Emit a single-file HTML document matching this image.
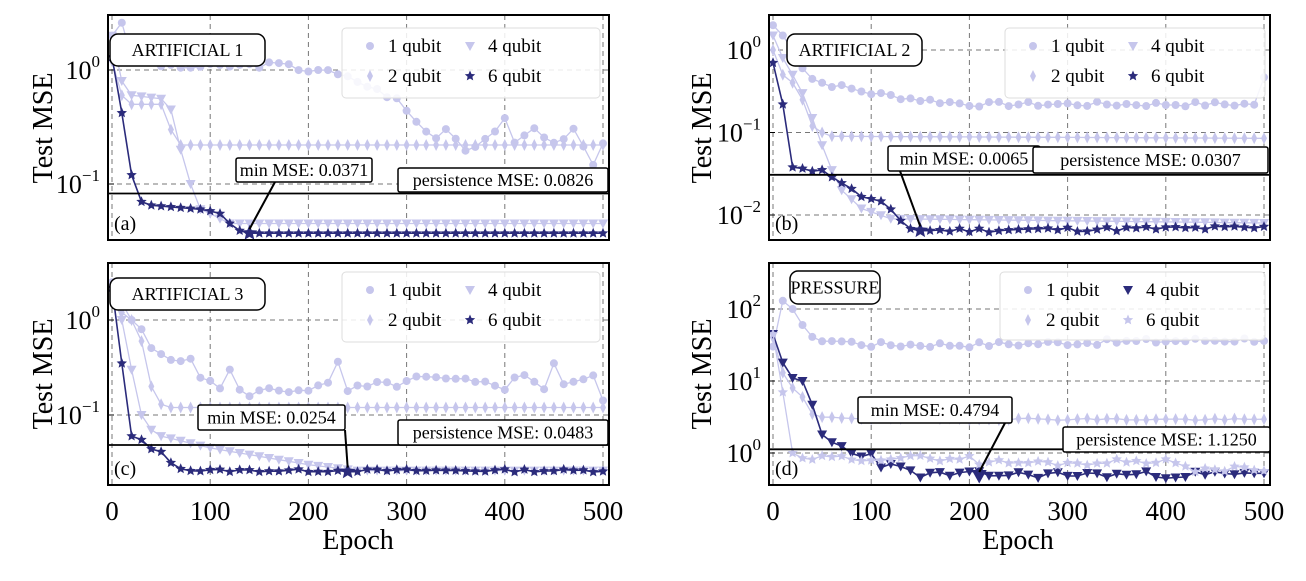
<!DOCTYPE html>
<html><head><meta charset="utf-8"><style>
html,body{margin:0;padding:0;background:#fff;}
svg,svg text{font-family:"Liberation Serif","DejaVu Serif",serif;}
</style></head><body>
<div id="wrap"></div>
<script>
var L='#c6c6ec',D='#2b2b7b';
var H='';
function lg(v){return Math.log(v)/Math.LN10;}
function star(x,y,r){var p=[];for(var i=0;i<10;i++){var a=-Math.PI/2+i*Math.PI/5,rr=(i%2)?r*0.45:r;p.push((x+rr*Math.cos(a)).toFixed(1)+','+(y+rr*Math.sin(a)).toFixed(1));}return p.join(' ');}
function marker(tp,x,y,c,big){var s=big||1;x=+x;y=+y;
 if(tp=='o')return '<circle cx="'+x+'" cy="'+y+'" r="'+(4*s)+'" fill="'+c+'"/>';
 if(tp=='d')return '<polygon points="'+x+','+(y-6*s)+' '+(x+3*s)+','+y+' '+x+','+(y+6*s)+' '+(x-3*s)+','+y+'" fill="'+c+'"/>';
 if(tp=='v')return '<polygon points="'+(x-5*s)+','+(y-4*s)+' '+(x+5*s)+','+(y-4*s)+' '+x+','+(y+5*s)+'" fill="'+c+'"/>';
 return '<polygon points="'+star(x,y,5.5*s)+'" fill="'+c+'"/>';}
function interp(pts){var out=[];for(var e=0;e<=500;e+=10){var v=pts[pts.length-1][1];for(var i=0;i<pts.length-1;i++){if(e>=pts[i][0]&&e<=pts[i+1][0]){var f=(e-pts[i][0])/(pts[i+1][0]-pts[i][0]);v=Math.pow(10,lg(pts[i][1])*(1-f)+lg(pts[i+1][1])*f);break;}}out.push([e,v]);}return out;}
function noise(arr,amp,seed){var s=seed;return arr.map(function(p,i){s=(s*9301+49297)%233280;var r=s/233280-0.5;return [p[0],i>3?p[1]*Math.pow(10,r*amp):p[1]];});}
var FF=' font-family="Liberation Serif, DejaVu Serif, serif"';
function panel(P){
 var X=function(e){return P.x0+(P.x5-P.x0)*e/500;},Y=function(v){return P.ya-P.yd*lg(v);};
 var h='';
 h+='<defs><clipPath id="c'+P.id+'"><rect x="'+P.fx0+'" y="'+P.fy0+'" width="'+(P.fx1-P.fx0)+'" height="'+(P.fy1-P.fy0)+'"/></clipPath></defs>';
 for(var e=0;e<=500;e+=100)h+='<line x1="'+X(e)+'" x2="'+X(e)+'" y1="'+P.fy0+'" y2="'+P.fy1+'" stroke="#777" stroke-width="1" stroke-dasharray="5,4"/>';
 P.ex.forEach(function(k){var y=Y(Math.pow(10,k));
  h+='<line x1="'+P.fx0+'" x2="'+P.fx1+'" y1="'+y+'" y2="'+y+'" stroke="#777" stroke-width="1" stroke-dasharray="5,4"/>';
  h+='<text x="'+(P.fx0-8)+'" y="'+(y+9)+'" font-size="26" text-anchor="end">10<tspan dy="-12" font-size="17">'+(k<0?'\u2212'+(-k):k)+'</tspan></text>';
  h+='<line x1="'+P.fx0+'" x2="'+(P.fx0+6)+'" y1="'+y+'" y2="'+y+'" stroke="#000"/>';});
 h+='<g clip-path="url(#c'+P.id+')">';
 P.series.forEach(function(sr){var d=sr.d.map(function(p){return X(p[0]).toFixed(1)+','+Y(p[1]).toFixed(1);}).join(' ');
  h+='<polyline points="'+d+'" fill="none" stroke="'+sr.c+'" stroke-width="'+(sr.c==D?1.6:1.3)+'"/>';
  sr.d.forEach(function(p){h+=marker(sr.m,X(p[0]).toFixed(1),Y(p[1]).toFixed(1),sr.c);});});
 var py=Y(P.pers);h+='<line x1="'+P.fx0+'" x2="'+P.fx1+'" y1="'+py+'" y2="'+py+'" stroke="#000" stroke-width="1.8"/>';
 h+=marker(P.minm,X(P.mine),Y(P.minv),D,1.5);
 h+='</g>';
 h+='<rect x="'+P.fx0+'" y="'+P.fy0+'" width="'+(P.fx1-P.fx0)+'" height="'+(P.fy1-P.fy0)+'" fill="none" stroke="#000" stroke-width="2"/>';
 if(P.bottom)for(var e2=0;e2<=500;e2+=100)h+='<text x="'+X(e2)+'" y="'+(P.fy1+35)+'" font-size="27" text-anchor="middle">'+e2+'</text>';
 var t=P.title;h+='<rect x="'+t[0]+'" y="'+t[1]+'" width="'+t[2]+'" height="'+t[3]+'" rx="8" fill="#fff" stroke="#000" stroke-width="1.5"/><text x="'+(t[0]+t[2]/2)+'" y="'+(t[1]+t[3]/2+6)+'" font-size="18" text-anchor="middle">'+t[4]+'</text>';
 var g=P.leg;h+='<rect x="'+g[0]+'" y="'+g[1]+'" width="'+g[2]+'" height="'+g[3]+'" rx="4" fill="#fff" fill-opacity="0.85" stroke="#ddd"/>';
 var lx=[g[0]+28,g[0]+128],ly=[g[1]+18,g[1]+48];
 P.series.forEach(function(sr,i){var cx=lx[i<2?0:1],cy=ly[i%2];h+=marker(sr.m,cx,cy,sr.c)+'<text x="'+(cx+18)+'" y="'+(cy+6)+'" font-size="19">'+sr.n+'</text>';});
 var m=P.mbox;h+='<line x1="'+m[4]+'" y1="'+(m[1]+m[3])+'" x2="'+X(P.mine)+'" y2="'+(Y(P.minv)-4)+'" stroke="#000" stroke-width="2"/>';
 h+='<rect x="'+m[0]+'" y="'+m[1]+'" width="'+m[2]+'" height="'+m[3]+'" rx="2" fill="#fff" stroke="#000" stroke-width="1.5"/><text x="'+(m[0]+m[2]/2)+'" y="'+(m[1]+m[3]/2+6)+'" font-size="18" text-anchor="middle">min MSE: '+P.mtxt+'</text>';
 var q=P.pbox;h+='<rect x="'+q[0]+'" y="'+q[1]+'" width="'+q[2]+'" height="'+q[3]+'" rx="2" fill="#fff" stroke="#000" stroke-width="1.5"/><text x="'+(q[0]+q[2]/2)+'" y="'+(q[1]+q[3]/2+6)+'" font-size="18" text-anchor="middle">persistence MSE: '+P.ptxt+'</text>';
 h+='<text x="'+(P.fx0+6)+'" y="'+(P.fy1-10)+'" font-size="20">'+P.lab+'</text>';
 return h;
}
var PA={id:'a',fx0:108,fx1:609,fy0:15,fy1:240,x0:112,x5:603,ya:70,yd:114,ex:[0,-1],pers:0.0826,mine:140,minv:0.0371,minm:'*',
 title:[110,34,155,32,'ARTIFICIAL 1'],leg:[342,28,258,70],mbox:[236,158,136,24,275],mtxt:'0.0371',pbox:[398,168,210,24],ptxt:'0.0826',lab:'(a)',
 series:[{n:'1 qubit',m:'o',c:L,d:noise(interp([[0,2.0],[10,2.6],[20,1.3],[60,1.05],[170,1.12],[200,1.0],[210,1.02],[250,0.8],[290,0.55],[310,0.35],[330,0.25],[340,0.32],[360,0.2],[380,0.25],[400,0.36],[410,0.22],[430,0.32],[450,0.22],[470,0.3],[490,0.15],[500,0.22]]),0.05,3)},
 {n:'2 qubit',m:'d',c:L,d:interp([[0,1.2],[10,0.6],[20,0.5],[50,0.5],[60,0.3],[70,0.22],[500,0.22]])},
 {n:'4 qubit',m:'v',c:L,d:interp([[0,2.0],[10,0.8],[20,0.6],[50,0.56],[60,0.45],[70,0.2],[80,0.1],[90,0.06],[100,0.055],[120,0.045],[500,0.045]])},
 {n:'6 qubit',m:'*',c:D,d:interp([[0,1.3],[10,0.42],[20,0.12],[30,0.07],[40,0.065],[90,0.06],[100,0.058],[110,0.055],[120,0.045],[130,0.039],[140,0.037],[500,0.037]])}]};
var PB={id:'b',fx0:769,fx1:1270,fy0:15,fy1:240,x0:773,x5:1264,ya:50,yd:82.5,ex:[0,-1,-2],pers:0.0307,mine:150,minv:0.0065,minm:'*',
 title:[787,34,135,32,'ARTIFICIAL 2'],leg:[1005,28,260,70],mbox:[888,146,152,25,900],mtxt:'0.0065',pbox:[1033,147,235,26],ptxt:'0.0307',lab:'(b)',
 series:[{n:'1 qubit',m:'o',c:L,d:noise(interp([[0,2.0],[10,1.5],[20,1.0],[30,0.6],[40,0.45],[50,0.4],[100,0.3],[150,0.25],[200,0.22],[490,0.22],[500,0.45]]),0.06,7)},
 {n:'2 qubit',m:'d',c:L,d:interp([[0,1.0],[10,0.5],[20,0.4],[30,0.25],[40,0.12],[50,0.1],[60,0.09],[500,0.085]])},
 {n:'4 qubit',m:'v',c:L,d:interp([[0,1.5],[10,0.8],[20,0.5],[30,0.3],[40,0.15],[50,0.07],[60,0.035],[70,0.02],[90,0.012],[120,0.009],[500,0.008]])},
 {n:'6 qubit',m:'*',c:D,d:noise(interp([[0,0.7],[10,0.22],[20,0.038],[50,0.034],[60,0.03],[70,0.025],[80,0.02],[90,0.017],[110,0.014],[120,0.011],[130,0.0085],[140,0.007],[150,0.0065],[500,0.007]]),0.06,11)}]};
var PC={id:'c',fx0:108,fx1:609,fy0:263,fy1:485,x0:112,x5:603,ya:320,yd:95,ex:[0,-1],pers:0.0483,mine:240,minv:0.0254,minm:'*',bottom:1,
 title:[110,278,155,32,'ARTIFICIAL 3'],leg:[342,272,258,70],mbox:[198,405,147,25,345],mtxt:'0.0254',pbox:[398,420,210,25],ptxt:'0.0483',lab:'(c)',
 series:[{n:'1 qubit',m:'o',c:L,d:noise(interp([[0,2.5],[10,1.5],[20,1.0],[30,0.8],[40,0.5],[50,0.45],[70,0.4],[80,0.35],[90,0.25],[100,0.25],[110,0.18],[120,0.3],[130,0.17],[220,0.2],[230,0.34],[240,0.18],[320,0.24],[400,0.2],[410,0.27],[440,0.2],[450,0.36],[460,0.22],[490,0.24],[500,0.15]]),0.1,5)},
 {n:'2 qubit',m:'d',c:L,d:interp([[0,2.2],[10,1.2],[20,1.0],[30,0.6],[40,0.2],[50,0.13],[60,0.12],[500,0.12]])},
 {n:'4 qubit',m:'v',c:L,d:interp([[0,2.0],[10,1.0],[20,0.3],[30,0.1],[40,0.07],[50,0.06],[100,0.045],[200,0.03],[250,0.026],[500,0.026]])},
 {n:'6 qubit',m:'*',c:D,d:noise(interp([[0,2.2],[10,0.35],[20,0.06],[30,0.055],[40,0.045],[50,0.04],[60,0.032],[70,0.028],[80,0.026],[500,0.026]]),0.03,13)}]};
var PD={id:'d',fx0:769,fx1:1270,fy0:263,fy1:485,x0:773,x5:1264,ya:453,yd:72,ex:[2,1,0],pers:1.125,mine:210,minv:0.4794,minm:'v',bottom:1,
 title:[790,271,90,33,'PRESSURE'],leg:[1000,272,265,68],mbox:[858,397,154,26,1005],mtxt:'0.4794',pbox:[1063,427,207,25],ptxt:'1.1250',lab:'(d)',
 series:[{n:'1 qubit',m:'o',c:L,d:noise(interp([[0,30],[10,130],[20,100],[30,60],[40,38],[50,38],[100,32],[200,32],[300,34],[500,38]]),0.08,17)},
 {n:'2 qubit',m:'d',c:L,d:noise(interp([[0,40],[10,13],[20,8],[30,6],[40,3.4],[50,3.2],[100,3.0],[500,2.9]]),0.03,19)},
 {n:'4 qubit',m:'v',c:D,d:noise(interp([[0,45],[10,18],[20,11],[30,10],[40,4.6],[50,1.8],[60,1.4],[70,1.2],[80,1.0],[100,0.95],[110,0.7],[120,0.65],[130,0.6],[150,0.5],[500,0.5]]),0.1,23)},
 {n:'6 qubit',m:'*',c:L,d:noise(interp([[0,45],[10,7],[20,1.0],[30,0.85],[200,0.85],[210,0.75],[300,0.72],[400,0.8],[420,0.6],[500,0.6]]),0.08,29)}]};
[PA,PB,PC,PD].forEach(function(P){try{H+=panel(P);}catch(err){}});
H+='<text transform="translate(52,128) rotate(-90)" font-size="28" text-anchor="middle">Test MSE</text>';
H+='<text transform="translate(711,128) rotate(-90)" font-size="28" text-anchor="middle">Test MSE</text>';
H+='<text transform="translate(52,374) rotate(-90)" font-size="28" text-anchor="middle">Test MSE</text>';
H+='<text transform="translate(711,374) rotate(-90)" font-size="28" text-anchor="middle">Test MSE</text>';
H+='<text x="358" y="549" font-size="28" text-anchor="middle">Epoch</text>';
H+='<text x="1018" y="549" font-size="28" text-anchor="middle">Epoch</text>';
document.getElementById('wrap').innerHTML='<svg width="1306" height="576" viewBox="0 0 1306 576" xmlns="http://www.w3.org/2000/svg"'+FF+'>'+H+'</svg>';
</script>
</body></html>
